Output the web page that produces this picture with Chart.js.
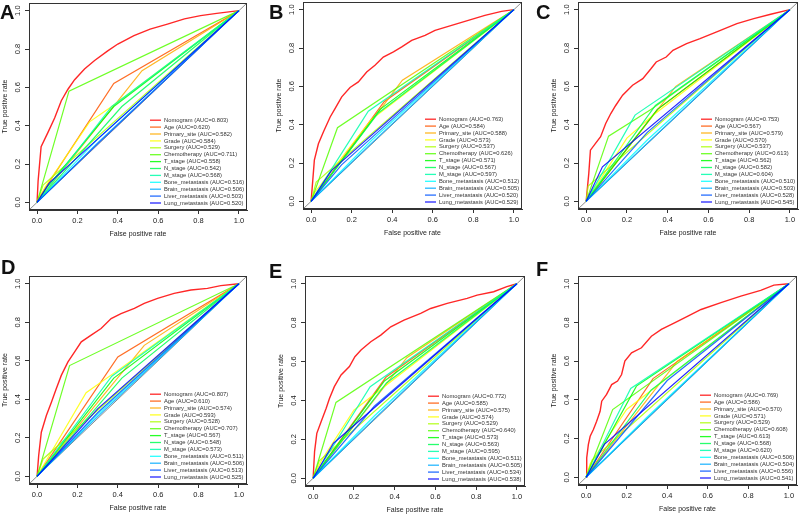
<!DOCTYPE html>
<html lang="en">
<head>
<meta charset="utf-8">
<title>ROC curves of the nomogram and single predictors</title>
<script src="https://cdn.jsdelivr.net/npm/chart.js@4.4.1/dist/chart.umd.min.js"></script>
<style>
  body { margin: 0; background: #fff; width: 800px; height: 515px; position: relative; overflow: hidden;
         font-family: "Liberation Sans", Arial, sans-serif; }
  canvas { position: absolute; }
  .tag { position: absolute; font-weight: bold; font-size: 20px; line-height: 20px; color: #111; }
</style>
</head>
<body>
<script>
// ---- data ----
const variables = ['Nomogram', 'Age', 'Primary_site', 'Grade', 'Surgery', 'Chemotherapy', 'T_stage',
  'N_stage', 'M_stage', 'Bone_metastasis', 'Brain_metastasis', 'Liver_metastasis', 'Lung_metastasis'];
const tickValues = [0, 0.2, 0.4, 0.6, 0.8, 1.0];

const aucA = [0.803, 0.620, 0.582, 0.584, 0.529, 0.711, 0.558, 0.542, 0.568, 0.516, 0.506, 0.503, 0.520];
const aucB = [0.763, 0.584, 0.588, 0.573, 0.537, 0.626, 0.571, 0.567, 0.597, 0.512, 0.505, 0.520, 0.529];
const aucC = [0.753, 0.567, 0.579, 0.570, 0.537, 0.613, 0.562, 0.582, 0.604, 0.510, 0.503, 0.528, 0.545];
const aucD = [0.807, 0.610, 0.574, 0.593, 0.528, 0.707, 0.567, 0.548, 0.573, 0.511, 0.506, 0.513, 0.525];
const aucE = [0.772, 0.585, 0.575, 0.574, 0.529, 0.640, 0.573, 0.563, 0.595, 0.511, 0.505, 0.534, 0.538];
const aucF = [0.769, 0.586, 0.570, 0.571, 0.529, 0.608, 0.613, 0.568, 0.620, 0.506, 0.504, 0.556, 0.541];

// [false positive rate, true positive rate] per variable, same order as `variables`
const rocA = [
  [[0,0],[0.005,0.11],[0.02,0.29],[0.054,0.365],[0.087,0.44],[0.12,0.53],[0.153,0.59],[0.186,0.64],[0.235,0.696],[0.285,0.74],[0.35,0.79],[0.40,0.826],[0.48,0.87],[0.56,0.904],[0.646,0.93],[0.73,0.957],[0.81,0.974],[0.89,0.986],[1,1]],
  [[0,0],[0.02,0.04],[0.38,0.62],[1,1]],
  [[0,0],[0.52,0.687],[1,1]],
  [[0,0],[0.04,0.08],[0.26,0.42],[0.37,0.5],[1,1]],
  [[0,0],[0.03,0.09],[1,1]],
  [[0,0],[0.158,0.58],[1,1]],
  [[0,0],[0.05,0.08],[0.38,0.5],[1,1]],
  [[0,0],[0.42,0.5],[1,1]],
  [[0,0],[0.37,0.5],[1,1]],
  [[0,0],[0.3,0.33],[1,1]],
  [[0,0],[0.3,0.31],[1,1]],
  [[0,0],[0.3,0.305],[1,1]],
  [[0,0],[0.06,0.1],[1,1]]
];
const rocB = [
  [[0,0],[0.016,0.215],[0.036,0.30],[0.061,0.363],[0.094,0.44],[0.118,0.484],[0.151,0.545],[0.192,0.594],[0.233,0.623],[0.274,0.675],[0.315,0.71],[0.356,0.753],[0.406,0.78],[0.447,0.806],[0.496,0.84],[0.562,0.866],[0.611,0.892],[0.693,0.918],[0.775,0.944],[0.857,0.97],[0.939,0.991],[1,1]],
  [[0,0],[0.36,0.52],[1,1]],
  [[0,0],[0.45,0.632],[1,1]],
  [[0,0],[0.02,0.05],[0.3,0.43],[1,1]],
  [[0,0],[0.025,0.1],[1,1]],
  [[0,0],[0.13,0.384],[1,1]],
  [[0,0],[0.34,0.48],[1,1]],
  [[0,0],[0.33,0.46],[1,1]],
  [[0,0],[0.282,0.47],[1,1]],
  [[0,0],[0.3,0.32],[1,1]],
  [[0,0],[0.3,0.305],[1,1]],
  [[0,0],[0.15,0.19],[1,1]],
  [[0,0],[0.1,0.16],[1,1]]
];
const rocC = [
  [[0,0],[0.013,0.146],[0.021,0.267],[0.046,0.302],[0.071,0.337],[0.096,0.406],[0.121,0.458],[0.145,0.50],[0.179,0.554],[0.228,0.606],[0.278,0.64],[0.319,0.693],[0.344,0.727],[0.393,0.753],[0.426,0.788],[0.493,0.823],[0.559,0.849],[0.641,0.884],[0.74,0.927],[0.823,0.953],[0.906,0.976],[1,1]],
  [[0,0],[0.35,0.48],[1,1]],
  [[0,0],[0.44,0.6],[1,1]],
  [[0,0],[0.2,0.33],[0.33,0.45],[1,1]],
  [[0,0],[0.01,0.08],[1,1]],
  [[0,0],[0.11,0.34],[0.32,0.48],[1,1]],
  [[0,0],[0.35,0.48],[1,1]],
  [[0,0],[0.34,0.5],[1,1]],
  [[0,0],[0.24,0.45],[1,1]],
  [[0,0],[0.3,0.32],[1,1]],
  [[0,0],[0.3,0.303],[1,1]],
  [[0,0],[0.3,0.36],[1,1]],
  [[0,0],[0.08,0.18],[1,1]]
];
const rocD = [
  [[0,0],[0.008,0.108],[0.021,0.229],[0.046,0.316],[0.071,0.385],[0.095,0.455],[0.12,0.524],[0.153,0.594],[0.186,0.646],[0.219,0.698],[0.268,0.733],[0.317,0.767],[0.367,0.819],[0.416,0.845],[0.482,0.872],[0.531,0.898],[0.597,0.924],[0.679,0.95],[0.762,0.967],[0.844,0.976],[0.91,0.99],[1,1]],
  [[0,0],[0.4,0.62],[1,1]],
  [[0,0],[0.531,0.68],[1,1]],
  [[0,0],[0.243,0.434],[0.4,0.55],[1,1]],
  [[0,0],[0.03,0.09],[1,1]],
  [[0,0],[0.161,0.575],[1,1]],
  [[0,0],[0.38,0.51],[1,1]],
  [[0,0],[0.42,0.51],[1,1]],
  [[0,0],[0.37,0.52],[1,1]],
  [[0,0],[0.3,0.32],[1,1]],
  [[0,0],[0.3,0.31],[1,1]],
  [[0,0],[0.3,0.33],[1,1]],
  [[0,0],[0.3,0.35],[1,1]]
];
const rocE = [
  [[0,0],[0.007,0.137],[0.018,0.231],[0.039,0.291],[0.064,0.36],[0.08,0.41],[0.104,0.471],[0.137,0.531],[0.178,0.574],[0.205,0.625],[0.235,0.659],[0.283,0.702],[0.332,0.736],[0.381,0.779],[0.446,0.813],[0.528,0.848],[0.577,0.873],[0.658,0.899],[0.756,0.925],[0.805,0.942],[0.886,0.959],[0.951,0.985],[1,1]],
  [[0,0],[0.357,0.519],[1,1]],
  [[0,0],[0.46,0.62],[1,1]],
  [[0,0],[0.04,0.09],[0.2,0.35],[1,1]],
  [[0,0],[0.03,0.09],[1,1]],
  [[0,0],[0.112,0.39],[1,1]],
  [[0,0],[0.35,0.5],[1,1]],
  [[0,0],[0.36,0.49],[1,1]],
  [[0,0],[0.28,0.471],[1,1]],
  [[0,0],[0.3,0.32],[1,1]],
  [[0,0],[0.3,0.305],[1,1]],
  [[0,0],[0.3,0.37],[1,1]],
  [[0,0],[0.1,0.18],[1,1]]
];
const rocF = [
  [[0,0],[0.003,0.1],[0.011,0.169],[0.02,0.212],[0.036,0.247],[0.052,0.29],[0.069,0.341],[0.077,0.393],[0.101,0.428],[0.126,0.479],[0.155,0.497],[0.175,0.531],[0.191,0.6],[0.224,0.643],[0.273,0.669],[0.322,0.729],[0.371,0.764],[0.436,0.798],[0.502,0.833],[0.567,0.867],[0.665,0.902],[0.763,0.936],[0.861,0.966],[0.926,0.993],[1,1]],
  [[0,0],[0.33,0.51],[1,1]],
  [[0,0],[0.45,0.6],[1,1]],
  [[0,0],[0.02,0.07],[0.2,0.35],[1,1]],
  [[0,0],[0.03,0.09],[1,1]],
  [[0,0],[0.131,0.35],[1,1]],
  [[0,0],[0.248,0.471],[1,1]],
  [[0,0],[0.32,0.45],[1,1]],
  [[0,0],[0.22,0.459],[1,1]],
  [[0,0],[0.3,0.31],[1,1]],
  [[0,0],[0.3,0.303],[1,1]],
  [[0,0],[0.4,0.5],[1,1]],
  [[0,0],[0.09,0.17],[1,1]]
];

// ---- layout: plot box (left, top, right, bottom) in page pixels ----
const panels = [
  { tag: 'A', auc: aucA, roc: rocA, box: [29, 3, 247, 210], tagPos: [0, 2] },
  { tag: 'B', auc: aucB, roc: rocB, box: [303, 2, 522, 209], tagPos: [269, 2] },
  { tag: 'C', auc: aucC, roc: rocC, box: [578, 2, 798, 209], tagPos: [536, 2] },
  { tag: 'D', auc: aucD, roc: rocD, box: [29, 276, 247, 484], tagPos: [1, 257] },
  { tag: 'E', auc: aucE, roc: rocE, box: [305, 276, 525, 486], tagPos: [269, 261] },
  { tag: 'F', auc: aucF, roc: rocF, box: [578, 276, 797, 485], tagPos: [536, 259] }
];

// rainbow from red to blue, like R's rainbow(13, end = 4/6)
const lineColors = variables.map((v, i) => `hsla(${i * 20}, 100%, 50%, 0.85)`);
const FONT = '"Liberation Sans", Arial, sans-serif';
Chart.defaults.font.family = FONT;

const Y_AXIS_W = 29, X_AXIS_H = 29;

const rFrame = {
  id: 'rFrame',
  afterDatasetsDraw(chart) {
    const { ctx, chartArea: a, scales: { y } } = chart;
    ctx.save();
    ctx.strokeStyle = '#333';
    ctx.lineWidth = 1;
    ctx.strokeRect(Math.round(a.left) + 0.5, Math.round(a.top) + 0.5,
      Math.round(a.right - a.left) - 1, Math.round(a.bottom - a.top) - 1);

    // y tick labels, rotated like R's default
    ctx.fillStyle = '#222';
    ctx.font = '7.5px ' + FONT;
    ctx.textAlign = 'center';
    ctx.textBaseline = 'middle';
    y.ticks.forEach(t => {
      ctx.save();
      ctx.translate(a.left - 11, y.getPixelForValue(t.value));
      ctx.rotate(-Math.PI / 2);
      ctx.fillText(t.value.toFixed(1), 0, 0);
      ctx.restore();
    });

    // legend in the bottom-right corner
    const items = chart.data.datasets.filter(d => d.label);
    const x0 = a.right - 97;
    ctx.font = '5.8px ' + FONT;
    ctx.textAlign = 'left';
    ctx.fillStyle = '#333';
    ctx.lineWidth = 1.3;
    items.forEach((d, i) => {
      const yy = a.bottom - 7 - (items.length - 1 - i) * 6.9;
      ctx.strokeStyle = d.borderColor;
      ctx.beginPath();
      ctx.moveTo(x0, yy);
      ctx.lineTo(x0 + 11, yy);
      ctx.stroke();
      ctx.fillText(d.label, x0 + 14, yy);
    });
    ctx.restore();
  }
};

function axis(isX) {
  return {
    type: 'linear',
    min: -0.04,
    max: 1.04,
    afterBuildTicks: s => { s.ticks = tickValues.map(v => ({ value: v })); },
    afterFit: s => { if (isX) s.height = X_AXIS_H; else s.width = Y_AXIS_W; },
    grid: { drawOnChartArea: false, drawTicks: true, tickLength: 4, tickColor: '#333', tickWidth: 1 },
    border: { display: true, color: '#333', width: 1 },
    ticks: isX
      ? { display: true, padding: 2, color: '#222', font: { size: 7.5 }, maxRotation: 0, autoSkip: false,
          callback: v => v.toFixed(1) }
      : { display: false },
    title: isX
      ? { display: true, text: 'False positive rate', color: '#222', font: { size: 7 }, padding: { top: 0, bottom: 0.8 } }
      : { display: true, text: 'True positive rate', color: '#222', font: { size: 7 }, padding: { top: 1.2, bottom: 0 } }
  };
}

panels.forEach(p => {
  const [l, t, r, b] = p.box;
  const cv = document.createElement('canvas');
  const w = r - l + Y_AXIS_W + 2;
  const h = b - t + 3 + X_AXIS_H;
  cv.width = w; cv.height = h;
  cv.style.left = (l - Y_AXIS_W) + 'px';
  cv.style.top = (t - 3) + 'px';
  cv.style.width = w + 'px';
  cv.style.height = h + 'px';
  document.body.appendChild(cv);

  const tag = document.createElement('div');
  tag.className = 'tag';
  tag.textContent = p.tag;
  tag.style.left = p.tagPos[0] + 'px';
  tag.style.top = p.tagPos[1] + 'px';
  document.body.appendChild(tag);

  const datasets = variables.map((name, i) => ({
    label: `${name} (AUC=${p.auc[i].toFixed(3)})`,
    data: p.roc[i].map(([x, y]) => ({ x, y })),
    borderColor: lineColors[i],
    borderWidth: i === 0 ? 1.4 : 1.2,
    showLine: true,
    pointRadius: 0,
    tension: 0,
    order: variables.length - i
  }));
  datasets.push({
    label: '',
    data: [{ x: -0.04, y: -0.04 }, { x: 1.04, y: 1.04 }],
    borderColor: '#8c8c8c',
    borderWidth: 1,
    showLine: true,
    pointRadius: 0,
    order: 100
  });

  new Chart(cv, {
    type: 'scatter',
    data: { datasets },
    options: {
      responsive: false,
      animation: false,
      devicePixelRatio: 1,
      events: [],
      layout: { padding: { top: 3, right: 2, left: 0, bottom: 0 } },
      plugins: { legend: { display: false }, tooltip: { enabled: false } },
      scales: { x: axis(true), y: axis(false) }
    },
    plugins: [rFrame]
  });
});
</script>
</body>
</html>
